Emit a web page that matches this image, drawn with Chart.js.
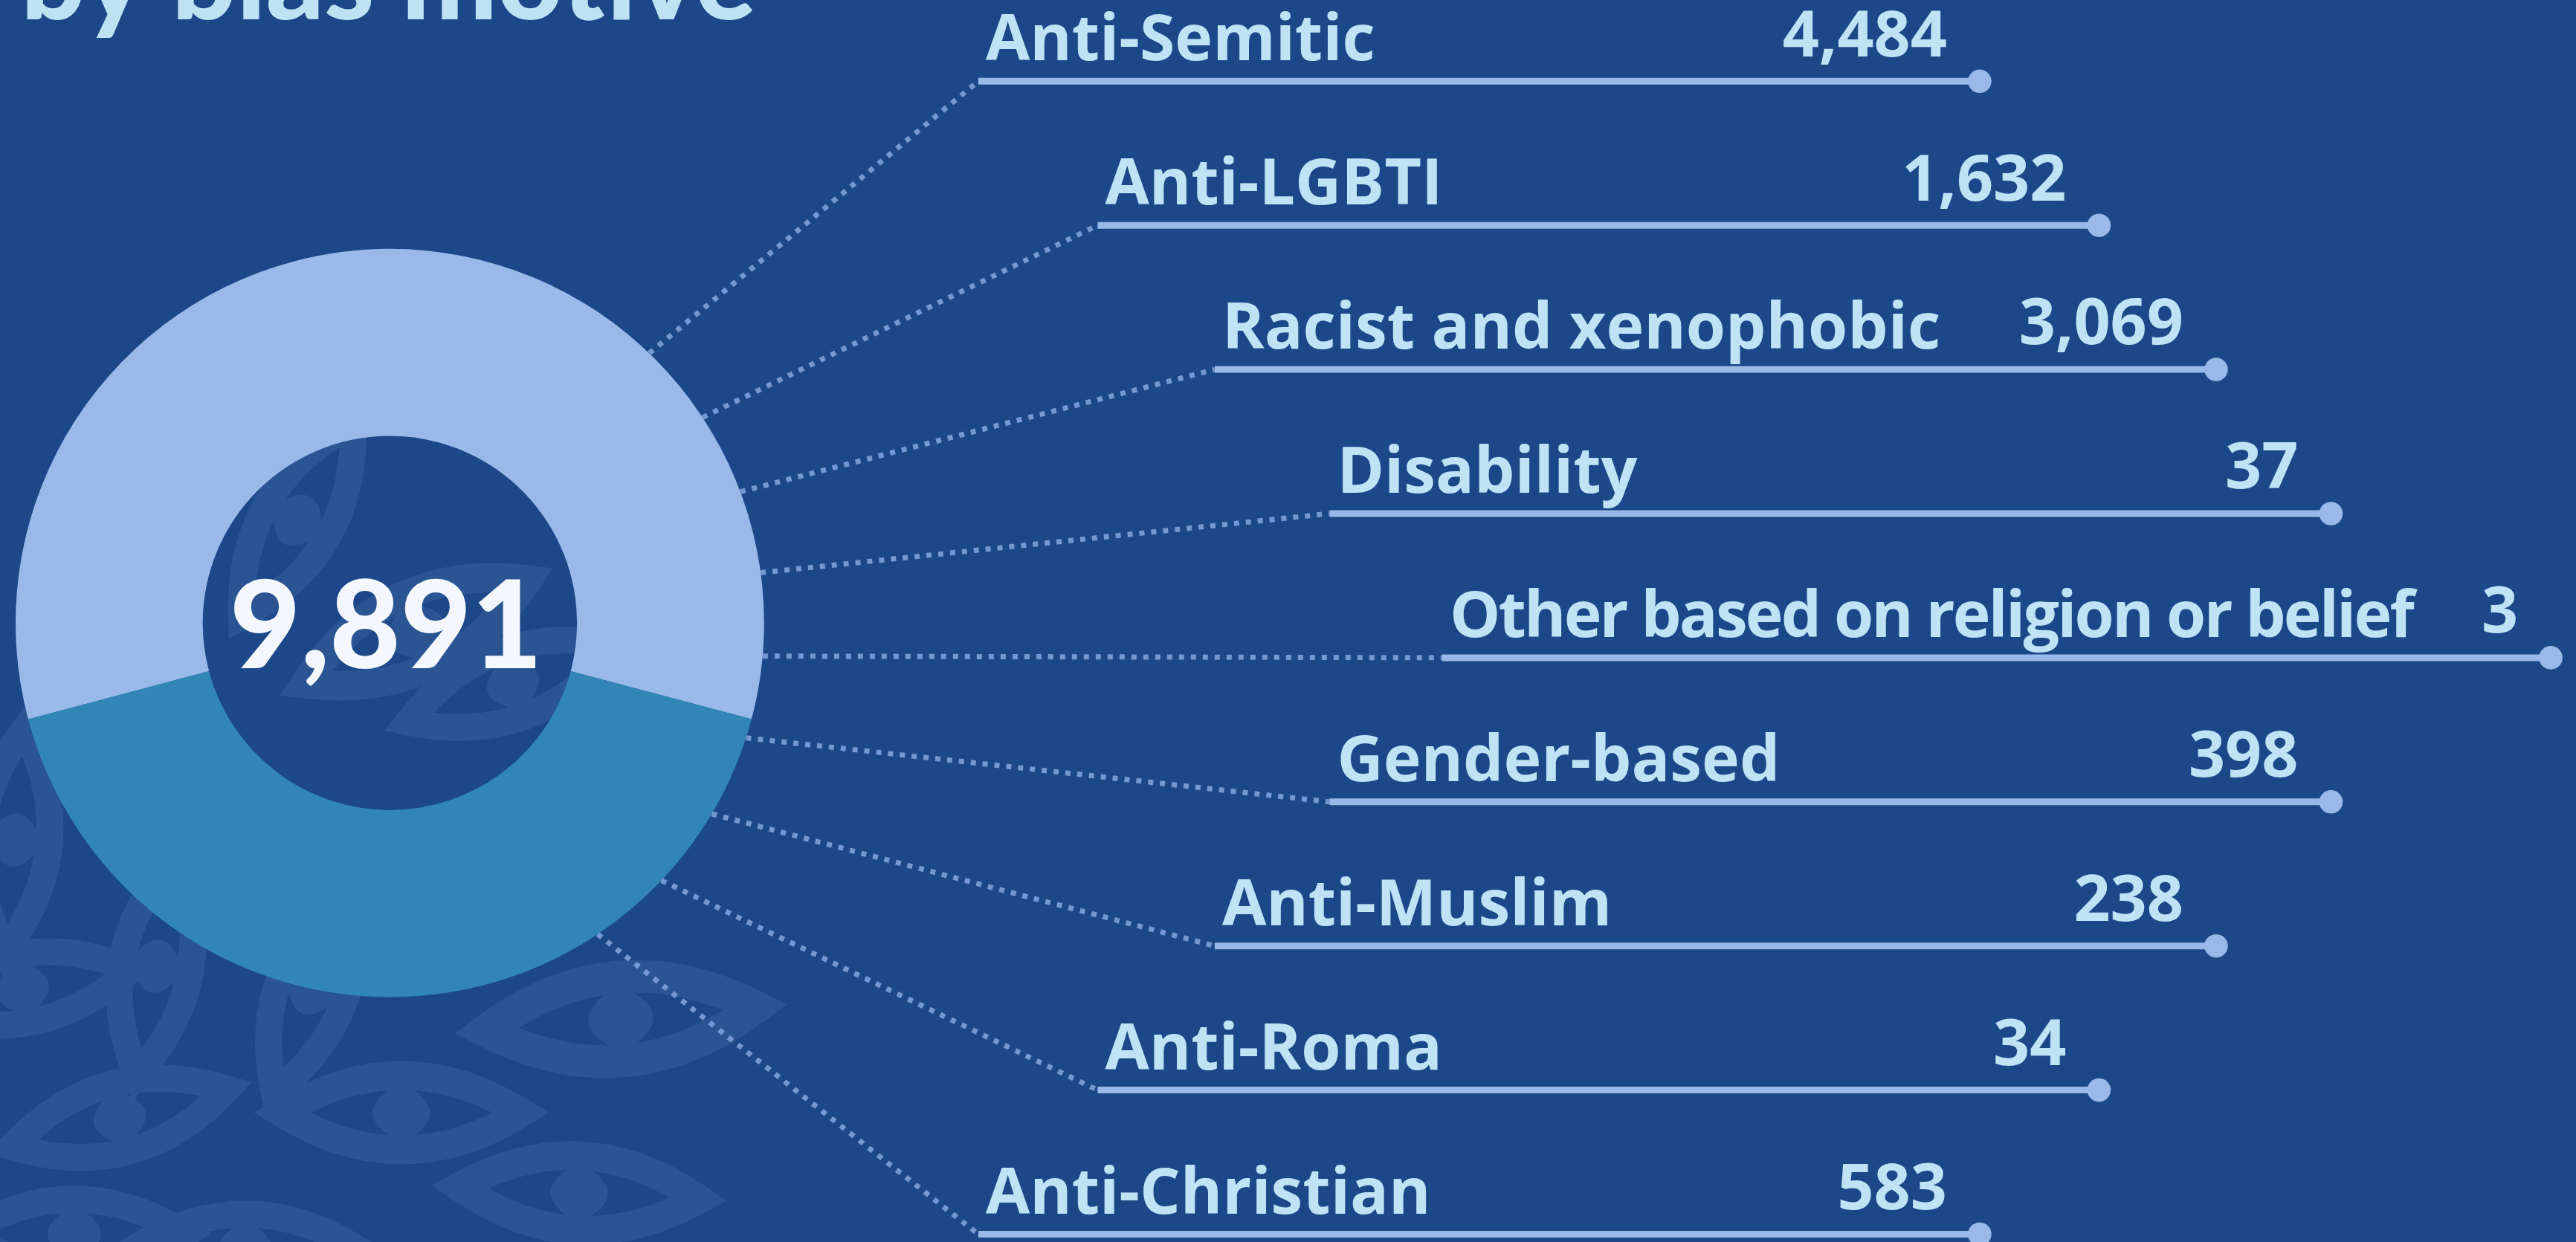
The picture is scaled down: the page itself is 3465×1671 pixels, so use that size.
<!DOCTYPE html>
<html>
<head>
<meta charset="utf-8">
<script src="https://cdn.jsdelivr.net/npm/chart.js@4.4.1/dist/chart.umd.min.js"></script>
<style>
  html, body { margin: 0; padding: 0; background: #1c4789; overflow: hidden; }
  #wrap { width: 3465px; height: 1671px; position: relative; }
</style>
</head>
<body>
<div id="wrap"><canvas id="myChart"></canvas></div>
<script>
const title = "by bias motive";
const total = 9891;

// the two parts of the ring
const donutLabels = ["Segment 1", "Segment 2"];
const donutValues = [5764, 4127];

const motives = [
  "Anti-Semitic",
  "Anti-LGBTI",
  "Racist and xenophobic",
  "Disability",
  "Other based on religion or belief",
  "Gender-based",
  "Anti-Muslim",
  "Anti-Roma",
  "Anti-Christian",
];
const incidents = [4484, 1632, 3069, 37, 3, 398, 238, 34, 583];

// faint eye pattern in the background: x, y, width, rotation (deg)
const eyes = [
  [540, 1497, 323, 0],
  [835, 1371, 365, -5],
  [779, 1605, 323, 3],
  [161, 1504, 300, -15],
  [30, 1330, 300, -10],
  [210, 1300, 300, -80],
  [420, 1330, 300, -70],
  [20, 1130, 300, -85],
  [560, 850, 330, -25],
  [400, 700, 300, -60],
  [690, 920, 300, -20],
  [330, 1680, 300, 0],
  [100, 1660, 300, 0],
];

function drawEye(ctx, x, y, w, rot) {
  const c = w * 0.31;
  const lw = w * 0.12;
  ctx.save();
  ctx.translate(x, y);
  ctx.rotate((rot * Math.PI) / 180);
  ctx.lineWidth = lw;
  ctx.beginPath();
  ctx.moveTo(-w / 2, 0);
  ctx.quadraticCurveTo(0, -c, w / 2, 0);
  ctx.quadraticCurveTo(0, c, -w / 2, 0);
  ctx.closePath();
  ctx.stroke();
  // pupil
  const ph = c / 2 - lw / 4;
  const pw = w * 0.24;
  ctx.beginPath();
  ctx.moveTo(0, -ph);
  ctx.quadraticCurveTo(pw, 0, 0, ph);
  ctx.quadraticCurveTo(-pw, 0, 0, -ph);
  ctx.fill();
  ctx.restore();
}

const backdrop = {
  id: "backdrop",
  beforeDraw(chart) {
    const ctx = chart.ctx;
    ctx.save();
    ctx.fillStyle = "#1c4789";
    ctx.fillRect(0, 0, chart.width, chart.height);
    ctx.strokeStyle = "#2b5592";
    ctx.fillStyle = "#2b5592";
    eyes.forEach((e) => drawEye(ctx, e[0], e[1], e[2], e[3]));

    // title, mostly cut off at the top
    ctx.font = "900 100px Lato";
    const size = (100 * 989) / ctx.measureText(title).width;
    ctx.font = `900 ${size}px Lato`;
    ctx.fillStyle = "#bde3f3";
    ctx.textAlign = "left";
    ctx.textBaseline = "alphabetic";
    ctx.fillText(title, 28, 25.5);
    ctx.restore();
  },
};

const centerTotal = {
  id: "centerTotal",
  afterDatasetsDraw(chart) {
    const arc = chart.getDatasetMeta(0).data[0];
    const ctx = chart.ctx;
    const txt = total.toLocaleString("en-US");
    ctx.save();
    ctx.font = "900 100px Lato";
    const size = (100 * 421) / ctx.measureText(txt).width;
    ctx.font = `900 ${size}px Lato`;
    ctx.fillStyle = "#f4f8fe";
    ctx.textAlign = "center";
    ctx.textBaseline = "alphabetic";
    ctx.fillText(txt, arc.x - 5, arc.y + 61);
    ctx.restore();
  },
};

const maxLabelW = 1295;

const rows = {
  id: "rows",
  afterDraw(chart) {
    const arc = chart.getDatasetMeta(0).data[0];
    const cx = arc.x, cy = arc.y, R = arc.outerRadius;
    const ctx = chart.ctx;
    const mid = (motives.length - 1) / 2;
    ctx.save();
    ctx.font = "bold 86px 'Open Sans'";
    motives.forEach((name, i) => {
      const k = i - mid;
      const y = cy + 46.7 + k * 193.9;
      const x0 = cx + 1415.5 - 150 * Math.abs(k) - 1.5 * k * k;
      const a = ((5.07 + 12.8 * k) * Math.PI) / 180;
      const val = incidents[i].toLocaleString("en-US");
      ctx.letterSpacing = "0px";
      let labelW = ctx.measureText(name).width;
      const valueW = ctx.measureText(val).width;
      let spacing = 0;
      if (labelW > maxLabelW) {
        // long label gets tighter tracking
        spacing = (maxLabelW - labelW) / name.length;
        labelW = maxLabelW;
      }
      const len = Math.max(1347, 10 + labelW + 95 + valueW + 42);

      // dotted connector from the ring
      ctx.setLineDash([7, 9]);
      ctx.lineWidth = 7;
      ctx.strokeStyle = "#7597d2";
      ctx.beginPath();
      ctx.moveTo(cx + R * Math.cos(a), cy + R * Math.sin(a));
      ctx.lineTo(x0, y);
      ctx.stroke();

      // solid underline with end dot
      ctx.setLineDash([]);
      ctx.lineWidth = 9;
      ctx.strokeStyle = "#99b9e9";
      ctx.beginPath();
      ctx.moveTo(x0, y);
      ctx.lineTo(x0 + len, y);
      ctx.stroke();
      ctx.fillStyle = "#99b9e9";
      ctx.beginPath();
      ctx.arc(x0 + len, y, 15.8, 0, Math.PI * 2);
      ctx.fill();

      ctx.fillStyle = "#bee3f4";
      ctx.textBaseline = "alphabetic";
      ctx.textAlign = "left";
      ctx.letterSpacing = spacing + "px";
      ctx.fillText(name, x0 + 10, y - 28);
      ctx.letterSpacing = "0px";
      ctx.textAlign = "right";
      ctx.fillText(val, x0 + len - 44, y - 33.7);
    });
    ctx.restore();
  },
};

const data = {
  labels: donutLabels,
  datasets: [
    {
      data: donutValues,
      backgroundColor: ["#99b9e9", "#3186b5"],
      borderWidth: 0,
      hoverOffset: 0,
    },
  ],
};

const config = {
  type: "doughnut",
  data,
  options: {
    responsive: true,
    maintainAspectRatio: false,
    animation: false,
    events: [],
    cutout: "50%",
    rotation: -104.9,
    layout: {
      padding: { left: 21, top: 334.8, right: 2437.2, bottom: 329.4 },
    },
    plugins: {
      legend: { display: false },
      tooltip: { enabled: false },
    },
  },
  plugins: [backdrop, centerTotal, rows],
};

const myChart = new Chart(document.getElementById("myChart"), config);
</script>
</body>
</html>
